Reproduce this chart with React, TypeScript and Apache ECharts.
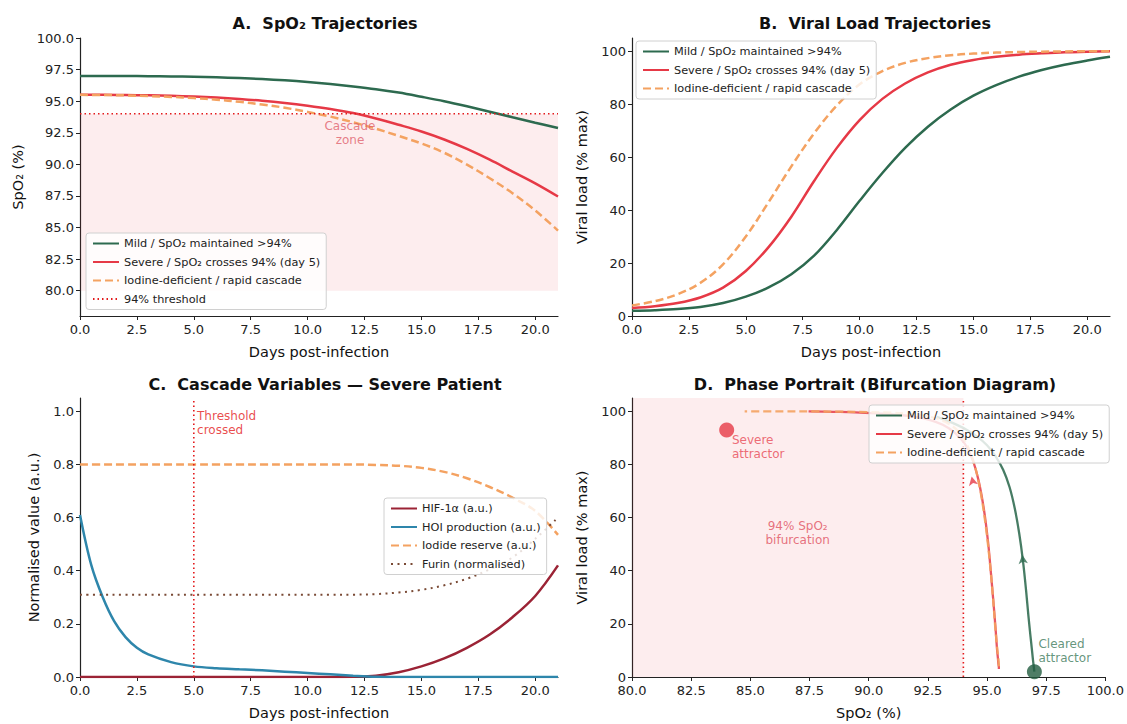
import React, { useEffect, useRef } from 'react';
import * as echarts from 'echarts';

const FONT = '"DejaVu Sans", sans-serif';

// ---------- data ----------
const days = [0, 1, 2, 3, 4, 5, 6, 7, 8, 9, 10, 11, 12, 13, 14, 15, 16, 17, 18, 19, 20, 21];

const spo2Mild = [97.0, 97.0, 96.99, 96.98, 96.96, 96.93, 96.89, 96.83, 96.75, 96.65, 96.52, 96.36, 96.17, 95.95, 95.68, 95.35, 95.0, 94.6, 94.17, 93.73, 93.3, 92.88];
const spo2Severe = [95.5, 95.5, 95.48, 95.46, 95.42, 95.37, 95.29, 95.18, 95.04, 94.86, 94.64, 94.38, 94.06, 93.63, 93.13, 92.6, 91.97, 91.22, 90.37, 89.43, 88.5, 87.46];
const spo2Iodine = [95.5, 95.49, 95.46, 95.41, 95.34, 95.25, 95.12, 94.95, 94.74, 94.48, 94.15, 93.78, 93.33, 92.82, 92.25, 91.65, 90.92, 89.98, 88.9, 87.72, 86.35, 84.76];

const vlMild = [2.0, 2.2, 2.6, 3.4, 4.9, 7.3, 10.8, 15.8, 22.8, 32.5, 43.5, 54, 63.5, 71.5, 78, 83.2, 87.2, 90.4, 92.9, 94.9, 96.5, 97.9];
const vlSevere = [3.0, 3.7, 4.9, 7.0, 10.7, 17.0, 26.0, 37.5, 51, 63.5, 74, 82, 87.8, 92, 94.9, 96.7, 97.9, 98.7, 99.2, 99.6, 99.8, 100];
const vlIodine = [4.0, 5.6, 8.2, 12.5, 19.5, 30, 43, 56.5, 69, 79.5, 87.5, 92.5, 95.6, 97.4, 98.5, 99.1, 99.5, 99.7, 99.85, 99.93, 99.97, 100];

const hif = [0, 0, 0, 0, 0, 0, 0, 0, 0, 0, 0, 0, 0.001, 0.005, 0.018, 0.04, 0.07, 0.11, 0.16, 0.225, 0.305, 0.42];
const hoiDays = [0, 0.5, 1, 1.5, 2, 2.5, 3, 4, 5, 6, 7, 8, 9, 10, 11, 12, 13, 14, 16, 18, 21];
const hoi = [0.61, 0.42, 0.3, 0.21, 0.15, 0.11, 0.085, 0.056, 0.04, 0.033, 0.029, 0.025, 0.02, 0.015, 0.01, 0.005, 0.001, 0, 0, 0, 0];
const iodide = [0.8, 0.8, 0.8, 0.8, 0.8, 0.8, 0.8, 0.8, 0.8, 0.8, 0.8, 0.8, 0.8, 0.798, 0.795, 0.787, 0.772, 0.748, 0.715, 0.675, 0.625, 0.535];
const furin = [0.31, 0.31, 0.31, 0.31, 0.31, 0.31, 0.31, 0.31, 0.31, 0.31, 0.31, 0.31, 0.31, 0.312, 0.318, 0.328, 0.345, 0.37, 0.405, 0.45, 0.52, 0.6];

const dayTicks = [0, 2.5, 5, 7.5, 10, 12.5, 15, 17.5, 20];
const spo2Ticks = [80, 82.5, 85, 87.5, 90, 92.5, 95, 97.5, 100];
const vlTicks = [0, 20, 40, 60, 80, 100];
const normTicks = [0, 0.2, 0.4, 0.6, 0.8, 1.0];
const spo2XTicks = [80, 82.5, 85, 87.5, 90, 92.5, 95, 97.5, 100];

const threshold = 94;
const thresholdDay = 5;
const severeAttractor = [84, 93];
const clearedAttractor = [97, 2];

const NAME_MILD = 'Mild / SpO₂ maintained >94%';
const NAME_SEVERE = 'Severe / SpO₂ crosses 94% (day 5)';
const NAME_IOD = 'Iodine-deficient / rapid cascade';
const NAME_THR = '94% threshold';

const C_MILD = '#2d6a4f';
const C_SEV = '#e63946';
const C_IOD = '#f4a261';
const C_THR = '#e31a1c';
const C_HIF = '#9b2335';
const C_HOI = '#2e86ab';
const C_FUR = '#7a4a35';
const SHADE = 'rgba(230, 57, 70, 0.09)';

const zip = (xs: number[], ys: number[]) => xs.map((x, i) => [x, ys[i]]);

export default function App() {
  const ref = useRef<HTMLDivElement>(null);

  useEffect(() => {
    document.body.style.margin = '0';
    const chart = echarts.init(ref.current!, undefined, { renderer: 'svg' });

    const axisBase = {
      type: 'value',
      axisLine: { show: true, lineStyle: { color: '#222', width: 1.2 } },
      splitLine: { show: false },
      nameLocation: 'middle',
      nameTextStyle: { color: '#111', fontSize: 14.5, fontFamily: FONT },
    };
    const lab = (vals: number[], dec: number, margin: number) => ({
      customValues: vals,
      color: '#222',
      fontSize: 13,
      fontFamily: FONT,
      margin,
      formatter: (v: number) => v.toFixed(dec),
    });
    const tick = (vals: number[]) => ({ show: true, length: 4, customValues: vals, lineStyle: { color: '#222', width: 1 } });

    const line = (name: string, data: number[][], color: string, xi: number, extra: any = {}) => ({
      type: 'line',
      name,
      xAxisIndex: xi,
      yAxisIndex: xi,
      data,
      symbol: 'none',
      smooth: 0.35,
      lineStyle: { color, width: 2.5, ...(extra.lineStyle || {}) },
      itemStyle: { color },
      z: extra.z ?? 3,
      ...(extra.rest || {}),
    });

    const textMark = (xi: number, pt: number[], text: string, color: string, position: string) => ({
      type: 'scatter',
      xAxisIndex: xi,
      yAxisIndex: xi,
      data: [pt],
      symbolSize: 1,
      itemStyle: { color: 'rgba(0,0,0,0)' },
      silent: true,
      z: 6,
      label: {
        show: true,
        position,
        distance: 0,
        formatter: text,
        color,
        fontSize: 12,
        lineHeight: 13.5,
        fontFamily: FONT,
        align: position === 'right' ? 'left' : 'center',
      },
    });

    const legendBase = {
      orient: 'vertical',
      backgroundColor: 'rgba(255,255,255,0.82)',
      borderColor: '#d0d0d0',
      borderWidth: 1,
      borderRadius: 3,
      padding: [5, 6, 5, 6],
      itemWidth: 26,
      itemHeight: 10,
      itemGap: 7.5,
      itemStyle: { opacity: 0, borderWidth: 0 },
      textStyle: { fontSize: 11.3, fontFamily: FONT, color: '#222' },
    };

    const titleBase = (text: string, left: number, top: number) => ({
      text,
      left,
      top,
      textAlign: 'center',
      textStyle: { fontSize: 16, fontWeight: 'bold', fontFamily: FONT, color: '#111' },
    });

    const option: any = {
      animation: false,
      backgroundColor: '#fff',
      title: [
        titleBase('A.  SpO₂ Trajectories', 320, 10),
        titleBase('B.  Viral Load Trajectories', 870, 10),
        titleBase('C.  Cascade Variables — Severe Patient', 320, 371),
        titleBase('D.  Phase Portrait (Bifurcation Diagram)', 870, 371),
      ],
      grid: [
        { left: 80, top: 38, width: 478, height: 278 },
        { left: 632, top: 38, width: 478, height: 278 },
        { left: 80, top: 398, width: 478, height: 279 },
        { left: 632, top: 398, width: 478, height: 279 },
      ],
      xAxis: [
        { ...axisBase, gridIndex: 0, min: 0, max: 21, axisLabel: lab(dayTicks, 1, 7), axisTick: tick(dayTicks), name: 'Days post-infection', nameGap: 28 },
        { ...axisBase, gridIndex: 1, min: 0, max: 21, axisLabel: lab(dayTicks, 1, 7), axisTick: tick(dayTicks), name: 'Days post-infection', nameGap: 28 },
        { ...axisBase, gridIndex: 2, min: 0, max: 21, axisLabel: lab(dayTicks, 1, 7), axisTick: tick(dayTicks), name: 'Days post-infection', nameGap: 28 },
        { ...axisBase, gridIndex: 3, min: 80, max: 100, axisLabel: lab(spo2XTicks, 1, 7), axisTick: tick(spo2XTicks), name: 'SpO₂ (%)', nameGap: 28 },
      ],
      yAxis: [
        { ...axisBase, gridIndex: 0, min: 78, max: 100, axisLabel: lab(spo2Ticks, 1, 6), axisTick: tick(spo2Ticks), name: 'SpO₂ (%)', nameGap: 55 },
        { ...axisBase, gridIndex: 1, min: 0, max: 105, axisLabel: lab(vlTicks, 0, 6), axisTick: tick(vlTicks), name: 'Viral load (% max)', nameGap: 43 },
        { ...axisBase, gridIndex: 2, min: 0, max: 1.05, axisLabel: lab(normTicks, 1, 6), axisTick: tick(normTicks), name: 'Normalised value (a.u.)', nameGap: 39 },
        { ...axisBase, gridIndex: 3, min: 0, max: 105, axisLabel: lab(vlTicks, 0, 6), axisTick: tick(vlTicks), name: 'Viral load (% max)', nameGap: 43 },
      ],
      legend: [
        { ...legendBase, left: 86, top: 233, data: [NAME_MILD, NAME_SEVERE, NAME_IOD, NAME_THR] },
        { ...legendBase, left: 636, top: 41, data: [NAME_MILD, NAME_SEVERE, NAME_IOD] },
        { ...legendBase, left: 384, top: 498, data: ['HIF-1α (a.u.)', 'HOI production (a.u.)', 'Iodide reserve (a.u.)', 'Furin (normalised)'] },
        { ...legendBase, left: 869, top: 405, data: [NAME_MILD, NAME_SEVERE, NAME_IOD] },
      ],
      series: [
        // ---- A ----
        line(NAME_MILD, zip(days, spo2Mild), C_MILD, 0),
        line(NAME_SEVERE, zip(days, spo2Severe), C_SEV, 0),
        line(NAME_IOD, zip(days, spo2Iodine), C_IOD, 0, { lineStyle: { type: [8, 4] } }),
        {
          ...line(NAME_THR, [[0, threshold], [21, threshold]], C_THR, 0, { lineStyle: { type: [1.5, 3], width: 1.6 } }),
          smooth: false,
          markArea: {
            silent: true,
            itemStyle: { color: SHADE },
            data: [[{ xAxis: 0, yAxis: 80 }, { xAxis: 21, yAxis: threshold }]],
          },
        },
        textMark(0, [11.86, 92.5], 'Cascade\nzone', '#e0606c', 'inside'),
        // ---- B ----
        line(NAME_MILD, zip(days, vlMild), C_MILD, 1),
        line(NAME_SEVERE, zip(days, vlSevere), C_SEV, 1),
        line(NAME_IOD, zip(days, vlIodine), C_IOD, 1, { lineStyle: { type: [8, 4] } }),
        // ---- C ----
        line('HIF-1α (a.u.)', zip(days, hif), C_HIF, 2),
        line('HOI production (a.u.)', zip(hoiDays, hoi), C_HOI, 2),
        line('Iodide reserve (a.u.)', zip(days, iodide), C_IOD, 2, { lineStyle: { type: [8, 4] } }),
        line('Furin (normalised)', zip(days, furin), C_FUR, 2, { lineStyle: { type: [2, 4.5], width: 2 } }),
        {
          ...line('thrC', [[thresholdDay, 0], [thresholdDay, 1.05]], C_THR, 2, { lineStyle: { type: [1.5, 3], width: 1.6 } }),
          smooth: false,
        },
        textMark(2, [5.12, 0.955], 'Threshold\ncrossed', C_THR, 'right'),
        // ---- D ----
        {
          ...line('thrD', [[threshold, 0], [threshold, 105]], C_THR, 3, { lineStyle: { type: [1.5, 3], width: 1.6 } }),
          smooth: false,
          markArea: {
            silent: true,
            itemStyle: { color: SHADE },
            data: [[{ xAxis: 80, yAxis: 0 }, { xAxis: threshold, yAxis: 105 }]],
          },
        },
        line(NAME_MILD, zip(spo2Mild, vlMild), C_MILD, 3, { rest: { lineStyle: { color: C_MILD, width: 2.3, opacity: 0.88 } } }),
        line(NAME_SEVERE, zip(spo2Severe, vlSevere), C_SEV, 3, { rest: { lineStyle: { color: C_SEV, width: 2.3, opacity: 0.85 } } }),
        line(NAME_IOD, zip(spo2Iodine, vlIodine), C_IOD, 3, { rest: { lineStyle: { color: C_IOD, width: 2.3, type: [8, 4], opacity: 0.9 } } }),
        {
          type: 'scatter', xAxisIndex: 3, yAxisIndex: 3, silent: true, z: 5,
          symbol: 'arrow',
          data: [
            { value: [96.49, 46], symbolRotate: 6, itemStyle: { color: C_MILD } },
            { value: [94.35, 75.5], symbolRotate: 12, itemStyle: { color: C_SEV } },
          ],
          symbolSize: [7, 9],
        },
        {
          type: 'scatter', xAxisIndex: 3, yAxisIndex: 3, silent: true, z: 5,
          data: [
            { value: severeAttractor, itemStyle: { color: '#e63946' } },
            { value: clearedAttractor, itemStyle: { color: '#225c40' } },
          ],
          symbolSize: 15,
        },
        textMark(3, [84.2, 86.6], 'Severe\nattractor', '#e84855', 'right'),
        textMark(3, [87.0, 54.2], '94% SpO₂\nbifurcation', '#e05060', 'inside'),
        textMark(3, [97.15, 9.8], 'Cleared\nattractor', '#3d7a5a', 'right'),
      ],
    };

    chart.setOption(option);
    return () => chart.dispose();
  }, []);

  return <div ref={ref} style={{ width: 1127, height: 724 }} />;
}
